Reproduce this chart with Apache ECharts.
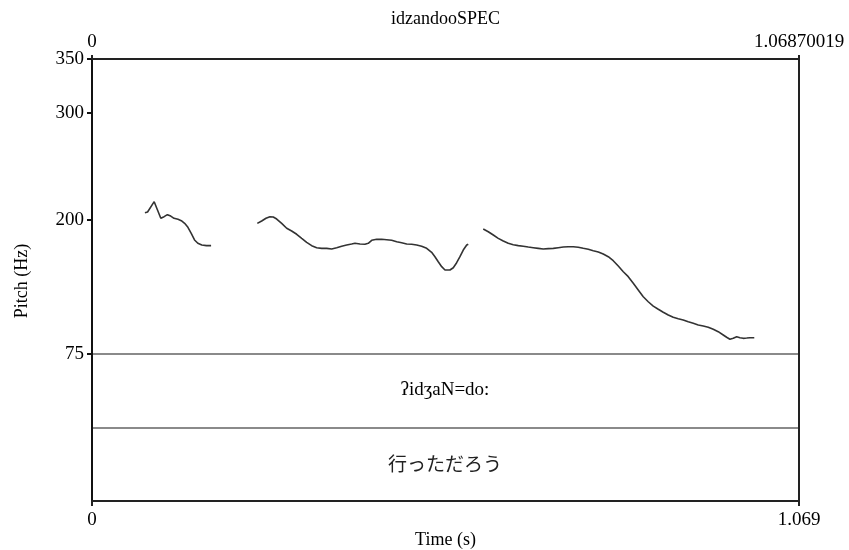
<!DOCTYPE html>
<html><head><meta charset="utf-8">
<script src="https://cdn.jsdelivr.net/npm/echarts@6/dist/echarts.min.js"></script>
<style>html,body{margin:0;padding:0;background:#fff}#c{width:849px;height:550px}</style>
</head><body><div id="c"></div>
<script>
// ---- data ----
const timeMin = 0;
const timeMax = 1.06870019;
const topTimeLabels = ['0', '1.06870019'];
const bottomTimeLabels = ['0', '1.069'];
const pitchMin = 75;
const pitchMax = 350;
const pitchTicks = [75, 200, 300, 350];

const seg1Time  = [0.080,0.084,0.094,0.099,0.104,0.109,0.114,0.119,0.124,0.130,0.135,0.140,0.145,0.150,0.155,0.160,0.166,0.173,0.180];
const seg1Pitch = [206.7,207.4,217.0,209.2,201.5,203.0,204.9,203.6,201.5,200.6,199.3,196.8,193.1,187.5,181.3,178.2,176.6,176.0,176.0];

const seg2Time  = [0.2499,0.2565,0.2630,0.2690,0.2740,0.2792,0.2867,0.2943,0.3018,0.3094,0.3170,0.3245,0.3321,0.3396,0.3472,0.3548,0.3623,0.3699,0.3774,0.3850,0.3925,0.3975,0.4051,0.4126,0.4176,0.4228,0.4303,0.4379,0.4454,0.4530,0.4606,0.4681,0.4757,0.4832,0.4908,0.4983,0.5059,0.5134,0.5184,0.5234,0.5286,0.5336,0.5361,0.5411,0.5461,0.5512,0.5562,0.5612,0.5664,0.5688];
const seg2Pitch = [196.8,199.0,201.5,203.0,202.7,200.8,196.8,192.2,189.7,186.6,182.8,179.1,176.0,174.1,173.5,173.5,172.9,174.1,175.4,176.6,177.5,178.2,177.5,177.3,178.2,181.0,181.9,181.9,181.5,181.0,179.7,178.7,177.5,177.3,176.6,175.4,173.5,169.8,165.7,161.0,156.4,153.3,151.7,153.3,155.4,160.1,165.7,171.9,176.6,177.3];

const seg3Time  = [0.5914,0.5990,0.6066,0.6141,0.6217,0.6292,0.6368,0.6444,0.6519,0.6595,0.6670,0.6746,0.6821,0.6897,0.6973,0.7048,0.7124,0.7199,0.7275,0.7350,0.7426,0.7502,0.7577,0.7653,0.7728,0.7804,0.7879,0.7955,0.8031,0.8106,0.8182,0.8257,0.8333,0.8408,0.8484,0.8560,0.8635,0.8711,0.8786,0.8862,0.8937,0.9013,0.9089,0.9164,0.9240,0.9315,0.9391,0.9466,0.9542,0.9593,0.9643,0.9693,0.9745,0.9795,0.9844,0.9896,0.9946,1.0011];
const seg3Pitch = [191.5,189.0,185.9,182.8,180.3,178.2,176.9,176.0,175.4,174.7,174.1,173.5,172.9,173.2,173.5,174.1,174.7,175.0,175.0,174.5,173.5,172.6,171.3,170.1,168.2,165.7,162.0,157.0,151.7,147.1,140.9,134.7,128.4,123.7,119.7,116.7,113.9,111.3,109.2,107.9,106.7,105.1,103.6,102.0,101.1,99.9,98.0,95.8,92.7,90.6,88.7,89.6,91.1,90.2,89.6,89.9,90.2,90.2];

const tierTexts = ['ʔidʒaN=do:', '行っただろう'];
const tierStart = 0;
const tierEnd = 1.06870019;
const tierRows = [1.5, 0.5];

// ---- chart ----
const serif = '"Liberation Serif","Times New Roman",serif';
const pair = (ts, ps) => ts.map((t, i) => [t, ps[i]]);
const tierMid = (tierStart + tierEnd) / 2;

const chart = echarts.init(document.getElementById('c'), null, {renderer: 'canvas'});
const pitchLine = d => ({
  type: 'line', xAxisIndex: 0, yAxisIndex: 0, data: d, showSymbol: false,
  lineStyle: {color: '#333', width: 1.6}, animation: false, z: 5
});
const tierLabel = (idx, color, family) => ({
  type: 'scatter', xAxisIndex: 1, yAxisIndex: 2, symbol: 'circle', symbolSize: 1,
  itemStyle: {color: 'rgba(0,0,0,0)', opacity: 1},
  data: [[tierMid, tierRows[idx]]],
  label: {show: true, position: [0, 0], align: 'center', verticalAlign: 'middle', opacity: 1,
    formatter: () => tierTexts[idx], color: color, textBorderWidth: 0, fontFamily: family, fontSize: 19},
  emphasis: {disabled: true}, silent: true, z: 6
});

chart.setOption({
  animation: false,
  backgroundColor: '#fff',
  grid: [
    {left: 92, top: 59, width: 707, height: 295},
    {left: 92, top: 354, width: 707, height: 148}
  ],
  graphic: [
    {type: 'text', x: 445.5, y: 19, style: {text: 'idzandooSPEC', font: '18px ' + serif, fill: '#000', textAlign: 'center', textVerticalAlign: 'middle'}},
    {type: 'text', x: 22, y: 281, rotation: Math.PI / 2, style: {text: 'Pitch (Hz)', font: '18px ' + serif, fill: '#000', textAlign: 'center', textVerticalAlign: 'middle'}}
  ],
  xAxis: [
    {gridIndex: 0, type: 'value', position: 'top', min: timeMin, max: timeMax,
     axisLine: {show: true, lineStyle: {color: '#222', width: 2}},
     axisTick: {show: true, customValues: [timeMin, timeMax], length: 4, lineStyle: {color: '#222', width: 2}},
     splitLine: {show: false},
     axisLabel: {customValues: [timeMin, timeMax], margin: 7, color: '#000', fontFamily: serif, fontSize: 19,
       formatter: v => (v < (timeMin + timeMax) / 2 ? topTimeLabels[0] : topTimeLabels[1])}},
    {gridIndex: 1, type: 'value', position: 'bottom', min: timeMin, max: timeMax,
     axisLine: {show: true, lineStyle: {color: '#222', width: 2}},
     axisTick: {show: true, customValues: [timeMin, timeMax], length: 5, lineStyle: {color: '#222', width: 2}},
     splitLine: {show: false},
     axisLabel: {customValues: [timeMin, timeMax], margin: 10, color: '#000', fontFamily: serif, fontSize: 19,
       formatter: v => (v < (timeMin + timeMax) / 2 ? bottomTimeLabels[0] : bottomTimeLabels[1])},
     name: 'Time (s)', nameLocation: 'middle', nameGap: 30,
     nameTextStyle: {color: '#000', fontFamily: serif, fontSize: 18}}
  ],
  yAxis: [
    {gridIndex: 0, type: 'value', min: pitchMin, max: pitchMax,
     axisLine: {show: true, lineStyle: {color: '#111', width: 2}},
     axisTick: {show: true, customValues: pitchTicks, length: 5, lineStyle: {color: '#111', width: 2}},
     splitLine: {show: false},
     axisLabel: {customValues: pitchTicks, margin: 8, color: '#000', fontFamily: serif, fontSize: 19}},
    {gridIndex: 0, type: 'value', position: 'right', min: pitchMin, max: pitchMax,
     axisLine: {show: true, lineStyle: {color: '#222', width: 2}},
     axisTick: {show: false}, axisLabel: {show: false}, splitLine: {show: false}},
    {gridIndex: 1, type: 'value', min: 0, max: 2, interval: 1,
     axisLine: {show: true, lineStyle: {color: '#111', width: 2}},
     axisTick: {show: false}, axisLabel: {show: false},
     splitLine: {show: true, lineStyle: {color: '#8a8a8a', width: 2}}},
    {gridIndex: 1, type: 'value', position: 'right', min: 0, max: 2,
     axisLine: {show: true, lineStyle: {color: '#222', width: 2}},
     axisTick: {show: false}, axisLabel: {show: false}, splitLine: {show: false}}
  ],
  series: [
    pitchLine(pair(seg1Time, seg1Pitch)),
    pitchLine(pair(seg2Time, seg2Pitch)),
    pitchLine(pair(seg3Time, seg3Pitch)),
    tierLabel(0, '#000', serif),
    tierLabel(1, '#222', '"Noto Sans CJK JP",sans-serif')
  ]
});
</script>
</body></html>
